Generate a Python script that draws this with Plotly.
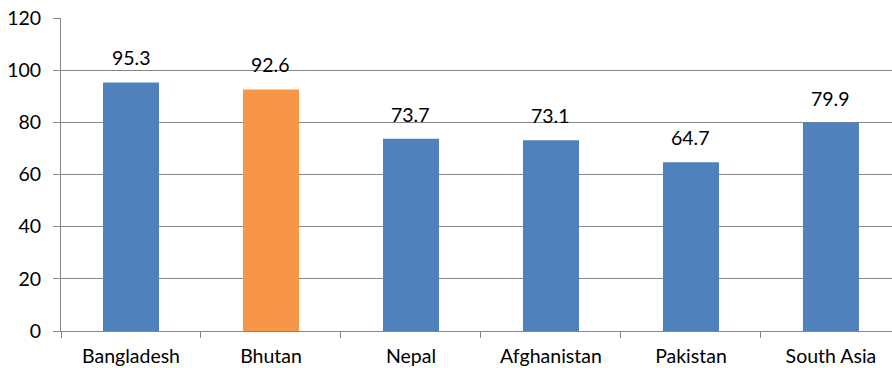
import plotly.graph_objects as go

categories = ["Bangladesh", "Bhutan", "Nepal", "Afghanistan", "Pakistan", "South Asia"]
values = [95.3, 92.6, 73.7, 73.1, 64.7, 79.9]
colors = ["#4F81BD", "#F79646", "#4F81BD", "#4F81BD", "#4F81BD", "#4F81BD"]
y_ticks = [0, 20, 40, 60, 80, 100, 120]

FONT = "Lato"
FS = 19.5
fig = go.Figure()
fig.add_trace(go.Bar(x=categories, y=values, marker=dict(color=colors, line=dict(width=0)),
                     width=0.4, hoverinfo="skip"))
for c, v in zip(categories, values):
    fig.add_annotation(x=c, y=v, text=f"{v:.1f}", showarrow=False, yanchor="bottom",
                       yshift=11, font=dict(family=FONT, size=FS, color="#000000"))

fig.update_layout(
    width=892, height=368, margin=dict(l=61, r=0, t=18, b=37),
    plot_bgcolor="white", paper_bgcolor="white", showlegend=False,
    font=dict(family=FONT, size=FS, color="#000000"),
)
fig.update_xaxes(range=[-0.5, 5.436], showgrid=False, showline=True, linecolor="#868686", linewidth=1,
                 ticks="outside", tickson="boundaries", ticklen=6, tickcolor="#868686", tickwidth=1,
                 ticklabelstandoff=8,
                 tickfont=dict(family=FONT, size=FS, color="#000000"))
fig.update_yaxes(range=[0, 120], tickvals=y_ticks, showgrid=True, gridcolor="#868686", gridwidth=1,
                 showline=True, linecolor="#868686", linewidth=1, zeroline=False,
                 ticks="outside", ticklen=7, tickcolor="#868686", tickwidth=1,
                 ticklabelstandoff=8,
                 tickfont=dict(family=FONT, size=FS, color="#000000"))
fig.write_html("out.html")
